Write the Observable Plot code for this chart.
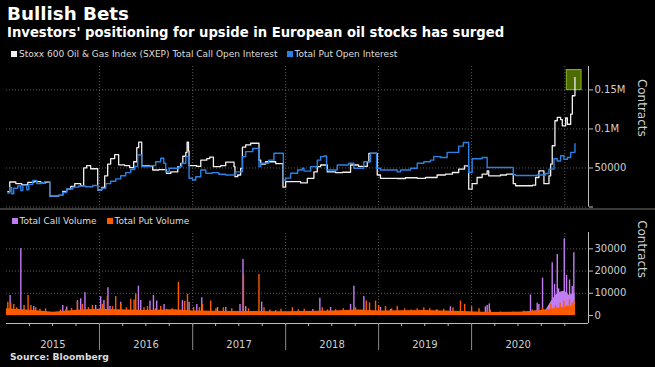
<!DOCTYPE html>
<html><head><meta charset="utf-8">
<script src="https://cdn.jsdelivr.net/npm/d3@7"></script>
<script src="https://cdn.jsdelivr.net/npm/@observablehq/plot@0.6"></script>
<style>
html,body{margin:0;padding:0;background:#000;}
#chart{position:relative;width:655px;height:367px;background:#000;overflow:hidden;font-family:"DejaVu Sans",sans-serif;color:#fff;}
.abs{position:absolute;white-space:nowrap;line-height:1;}
.sq{display:inline-block;width:6px;height:6px;margin-right:2px;vertical-align:0px;}
</style></head><body>
<div id="chart">
  <div class="abs" id="topPanel" style="left:0;top:0"></div>
  <div class="abs" id="bottomPanel" style="left:0;top:210px"></div>
  <div class="abs" style="left:0;top:208px;width:655px;height:2px;background:#3a3a3a"></div>
  <div class="abs" style="left:7px;top:5.3px;font-size:18.3px;font-weight:bold;">Bullish Bets</div>
  <div class="abs" style="left:7px;top:26.2px;font-size:13.2px;font-weight:bold;">Investors' positioning for upside in European oil stocks has surged</div>
  <div class="abs" id="legendTop" style="left:11px;top:50.3px;font-size:9px;color:#ddd;"></div>
  <div class="abs" id="legendBottom" style="left:11.5px;top:216.9px;font-size:9px;color:#ddd;"></div>
  <div class="abs" style="left:10px;top:352.2px;font-size:9.2px;font-weight:bold;color:#ddd;">Source: Bloomberg</div>
</div>
<script>
// ---- data (decimal year, value) ----
const callOpenInterest = [
 [2015.014,19600],[2015.035,32000],[2015.100,30000],[2015.164,28500],[2015.229,31500],[2015.293,32500],[2015.368,31000],[2015.422,32000],
 [2015.465,14000],[2015.562,15000],[2015.605,20000],[2015.648,23000],[2015.691,26500],[2015.734,30000],[2015.798,27500],[2015.830,50000],
 [2015.862,53000],[2015.905,49000],[2015.981,21800],[2016.024,25000],[2016.056,40000],[2016.088,55000],[2016.120,62000],[2016.163,67000],
 [2016.206,54000],[2016.271,53000],[2016.324,50500],[2016.367,58000],[2016.400,76000],[2016.421,83000],[2016.453,52500],[2016.571,47400],
 [2016.636,48000],[2016.719,43000],[2016.765,45000],[2016.840,51700],[2016.872,56000],[2016.894,65000],[2016.926,70000],[2016.940,83000],
 [2016.955,72000],[2016.961,53000],[2017.044,52000],[2017.087,60000],[2017.151,62000],[2017.183,64000],[2017.223,51700],[2017.302,53000],
 [2017.355,57500],[2017.445,51700],[2017.455,38800],[2017.484,41000],[2017.516,49600],[2017.535,76700],[2017.570,79500],[2017.624,81700],
 [2017.713,60000],[2017.732,55000],[2017.785,58000],[2017.893,55500],[2017.971,25400],[2018.000,32400],[2018.161,30800],[2018.233,36800],
 [2018.304,45000],[2018.340,51700],[2018.376,53800],[2018.448,45000],[2018.537,44000],[2018.612,44500],[2018.698,53800],[2018.784,52000],
 [2018.878,58000],[2018.895,68800],[2018.985,41000],[2019.020,36800],[2019.200,36500],[2019.289,37500],[2019.415,36800],[2019.504,37800],
 [2019.629,41000],[2019.718,42000],[2019.794,44200],[2019.861,48500],[2019.923,52800],[2019.969,22800],[2020.006,29900],[2020.059,37800],
 [2020.113,42000],[2020.167,46400],[2020.184,40000],[2020.310,41000],[2020.375,42000],[2020.447,29900],[2020.472,27200],[2020.655,28000],
 [2020.687,37800],[2020.722,46400],[2020.776,29900],[2020.830,40000],[2020.848,55000],[2020.865,78500],[2020.894,110500],[2020.919,114800],
 [2020.955,112000],[2020.973,104000],[2021.009,114000],[2021.027,106000],[2021.063,119000],[2021.081,142500],[2021.109,166000]
];
const putOpenInterest = [
 [2015.014,18000],[2015.035,25000],[2015.057,17000],[2015.078,24000],[2015.121,27000],[2015.154,21000],[2015.175,28000],[2015.218,22000],
 [2015.240,29000],[2015.283,34000],[2015.326,30000],[2015.368,31000],[2015.411,32500],[2015.465,14000],[2015.562,15000],[2015.605,18500],
 [2015.648,23000],[2015.712,25500],[2015.776,27000],[2015.851,26000],[2015.927,27500],[2015.981,21800],[2016.024,24000],[2016.067,30000],
 [2016.120,33000],[2016.174,36000],[2016.228,40000],[2016.281,44000],[2016.335,48000],[2016.378,52000],[2016.410,66600],[2016.453,51700],
 [2016.550,53000],[2016.603,58000],[2016.657,62400],[2016.690,56000],[2016.711,45000],[2016.747,49600],[2016.854,51700],[2016.883,56000],
 [2016.926,64500],[2016.961,36800],[2016.998,34600],[2017.033,38800],[2017.087,47400],[2017.141,43200],[2017.213,44000],[2017.281,42000],
 [2017.355,41000],[2017.462,45000],[2017.535,64500],[2017.570,71000],[2017.646,75000],[2017.713,51700],[2017.732,56000],[2017.818,60000],
 [2017.874,68800],[2017.975,34600],[2018.000,37000],[2018.054,43200],[2018.129,47400],[2018.179,49600],[2018.197,46000],[2018.269,51700],
 [2018.340,60000],[2018.376,64500],[2018.411,65400],[2018.440,47400],[2018.555,53800],[2018.680,56000],[2018.734,49600],[2018.841,58000],
 [2018.913,68800],[2018.978,49600],[2019.020,47400],[2019.200,45000],[2019.235,47400],[2019.343,49600],[2019.415,56000],[2019.486,58000],
 [2019.557,60000],[2019.593,64500],[2019.665,63500],[2019.737,70000],[2019.861,78000],[2019.912,82700],[2019.969,44200],[2020.006,61900],
 [2020.113,63500],[2020.167,50600],[2020.447,41400],[2020.472,40400],[2020.704,41000],[2020.794,43000],[2020.830,48500],[2020.884,61900],
 [2020.919,59000],[2020.955,65600],[2020.991,61000],[2021.027,63500],[2021.063,70000],[2021.109,81000]
];
const callVolume = [
 [2015.039,9000],[2015.154,30000],[2015.293,4000],[2015.605,4500],[2015.648,3800],[2015.763,6700],[2015.798,7500],[2015.844,10200],
 [2015.959,4500],[2016.013,8500],[2016.048,6700],[2016.091,12500],[2016.113,4000],[2016.228,6000],[2016.418,13200],[2016.443,6700],
 [2016.542,6500],[2016.579,9000],[2016.614,6500],[2016.693,5000],[2016.890,6700],[2016.961,6000],[2017.044,5000],[2017.098,8000],
 [2017.267,3600],[2017.356,3600],[2017.509,5000],[2017.541,25200],[2017.570,4000],[2017.742,6000],[2018.293,2700],[2018.368,7800],
 [2018.483,3600],[2018.698,5000],[2018.734,13200],[2018.841,8500],[2019.020,3600],[2019.128,2700],[2019.630,2500],[2019.772,3900],
 [2020.148,3900],[2020.167,4500],[2020.190,5200],[2020.632,9300],[2020.704,5500],[2020.722,5000],[2020.761,16800],[2020.865,23700],
 [2020.890,14000],[2020.919,27400],[2020.933,12000],[2020.955,10000],[2020.994,34500],[2021.019,18000],[2021.051,16000],[2021.080,13000],
 [2021.097,28200]
];
const callVolumeBase = [
 [2015.000,1500],[2015.500,1000],[2016.000,1800],[2016.500,1500],[2017.000,1200],[2017.500,1000],[2018.000,1000],[2018.500,1200],
 [2019.000,1000],[2019.500,1200],[2020.000,1300],[2020.500,1200],[2020.800,2500],[2020.850,6000],[2020.900,9000],[2020.950,10500],
 [2021.000,11000],[2021.050,9000],[2021.100,10000],[2021.110,10000]
];
const putVolume = [
 [2015.014,6000],[2015.046,5500],[2015.078,5000],[2015.110,3500],[2015.189,4500],[2015.232,9000],[2015.262,4500],[2015.315,3500],
 [2015.360,2800],[2015.420,3000],[2015.580,2500],[2015.640,2800],[2015.700,3200],[2015.763,6000],[2015.816,5000],[2015.881,3500],
 [2015.924,4500],[2016.031,5000],[2016.085,8500],[2016.140,4000],[2016.174,8500],[2016.228,5000],[2016.290,3500],[2016.335,7300],
 [2016.371,7000],[2016.389,9700],[2016.478,3500],[2016.515,4000],[2016.600,3000],[2016.657,4000],[2016.720,2800],[2016.780,3000],
 [2016.847,14900],[2016.915,6300],[2016.944,9500],[2017.010,3500],[2017.073,3500],[2017.105,5000],[2017.194,6500],[2017.250,3000],
 [2017.330,3500],[2017.420,3000],[2017.546,18300],[2017.600,3000],[2017.713,18500],[2017.767,3500],[2017.830,2500],[2017.893,2200],
 [2017.950,2800],[2018.072,3500],[2018.136,2600],[2018.200,2800],[2018.394,3500],[2018.450,2500],[2018.537,2600],[2018.620,3000],
 [2018.752,3500],[2018.867,6500],[2018.902,5700],[2018.967,6500],[2019.000,4500],[2019.074,4000],[2019.140,3000],[2019.200,4000],
 [2019.280,3000],[2019.350,2500],[2019.415,3000],[2019.486,3500],[2019.550,3000],[2019.620,2500],[2019.700,2800],[2019.800,3500],
 [2019.880,6500],[2019.925,5000],[2020.000,4000],[2020.080,3000],[2020.200,2500],[2020.310,1600],[2020.440,1500],[2020.560,2000],
 [2020.650,2500],[2020.760,3500],[2020.850,5000],[2020.900,4500],[2020.950,5500],[2020.990,6500],[2021.020,4500],[2021.050,7000],
 [2021.080,5500],[2021.100,6500]
];
const putVolumeBase = [
 [2015.000,3000],[2015.300,2200],[2015.500,1500],[2015.800,2500],[2016.000,2800],[2016.500,2200],[2016.800,2600],[2017.000,2000],
 [2017.500,1800],[2018.000,1700],[2018.500,2000],[2018.800,2500],[2019.000,2000],[2019.500,2200],[2019.900,1800],[2020.200,1300],
 [2020.600,1600],[2020.800,2500],[2020.950,3500],[2021.050,4000],[2021.110,4000]
];
const topTicks = [0, 50000, 100000, 150000];
const bottomTicks = [0, 10000, 20000, 30000];
const yearLabels = [2015, 2016, 2017, 2018, 2019, 2020];
const gridYears = [2016, 2017, 2018, 2019, 2020, 2021];
const legendTopItems = [["Stoxx 600 Oil & Gas Index (SXEP) Total Call Open Interest", "#f0f0f0"], ["Total Put Open Interest", "#2a82e4"]];
const legendBottomItems = [["Total Call Volume", "#c27cf2"], ["Total Put Volume", "#ff5a00"]];

// ---- helpers ----
const toDate = t => { const y = Math.floor(t); const a = Date.UTC(y,0,1), b = Date.UTC(y+1,0,1); return new Date(a + (t - y) * (b - a)); };
const rows = arr => arr.map(([t, v]) => ({date: toDate(t), value: v}));
const callOI = rows(callOpenInterest), putOI = rows(putOpenInterest);
const callV = rows(callVolume), putV = rows(putVolume);
const callB = rows(callVolumeBase), putB = rows(putVolumeBase);
const xStart = new Date(Date.UTC(2015,0,1)), xEnd = new Date(Date.UTC(2021,3,4));
const yearStarts = gridYears.map(y => new Date(Date.UTC(y,0,1)));
const midYears = yearLabels.map(y => new Date(Date.UTC(y,6,2)));
const quarterTicks = d3.utcMonth.every(3).range(new Date(Date.UTC(2015,3,1)), new Date(Date.UTC(2021,1,1)));
const sepTicks = yearStarts.filter(d => d.getUTCFullYear() <= 2020);

const WHITE = legendTopItems[0][1], BLUE = legendTopItems[1][1];
const PURPLE = legendBottomItems[0][1], ORANGE = legendBottomItems[1][1];
const GRID = "#5a5a5a", AXIS = "#bdbdbd", TXT = "#cfcfcf";
const plotStyle = {background: "none", color: TXT, fontFamily: "DejaVu Sans", fontSize: "10px", overflow: "visible"};

const lastCall = callOI[callOI.length - 1];

const topChart = Plot.plot({
  width: 655, height: 215, marginLeft: 6, marginRight: 67, marginTop: 66, marginBottom: 8.5,
  style: plotStyle,
  x: {type: "utc", domain: [xStart, xEnd], axis: null},
  y: {domain: [0, 180000], axis: null},
  marks: [
    Plot.ruleY(topTicks, {stroke: GRID, strokeDasharray: "1,2"}),
    Plot.ruleX(yearStarts, {stroke: GRID, strokeDasharray: "1,2"}),
    Plot.rect([lastCall], {x1: d => d3.utcDay.offset(d.date, -32), x2: d => d3.utcDay.offset(d.date, 26),
      y1: d => d.value - 16300, y2: d => d.value + 9400, fill: "#4d6c00", stroke: "#8cb828", strokeWidth: 1}),
    Plot.line(callOI, {x: "date", y: "value", stroke: WHITE, strokeWidth: 1.3, curve: "step-after"}),
    Plot.line(putOI, {x: "date", y: "value", stroke: BLUE, strokeWidth: 1.4, curve: "step-after"}),
    Plot.ruleX([xEnd], {stroke: AXIS}),
    Plot.axisY({anchor: "right", ticks: topTicks, tickSize: 4, tickPadding: 2, stroke: AXIS, fill: TXT, label: null,
      tickFormat: d => d === 0 ? "" : d >= 100000 ? `${d / 1e6}M` : `${d}`}),
    Plot.text(["Contracts"], {frameAnchor: "right", dx: 53, rotate: 90, fill: TXT, fontSize: 12})
  ]
});
document.getElementById("topPanel").appendChild(topChart);

const yMin = -3600, yMax = 37350;
const bottomChart = Plot.plot({
  width: 655, height: 157, marginLeft: 6, marginRight: 67, marginTop: 22, marginBottom: 44,
  style: plotStyle,
  x: {type: "utc", domain: [xStart, xEnd], axis: null},
  y: {domain: [yMin, yMax], axis: null},
  marks: [
    Plot.ruleY(bottomTicks.filter(d => d > 0), {stroke: GRID, strokeDasharray: "1,2"}),
    Plot.ruleX(yearStarts, {stroke: GRID, strokeDasharray: "1,2", y1: 0, y2: yMax}),
    Plot.areaY(callB, {x: "date", y: "value", fill: PURPLE, curve: "linear"}),
    Plot.ruleX(callV, {x: "date", y1: 0, y2: "value", stroke: PURPLE, strokeWidth: 1.4}),
    Plot.areaY(putB, {x: "date", y: "value", fill: ORANGE, curve: "linear"}),
    Plot.ruleX(putV, {x: "date", y1: 0, y2: "value", stroke: ORANGE, strokeWidth: 1.4}),
    Plot.ruleY([yMin], {stroke: AXIS}),
    Plot.ruleX([xEnd], {stroke: AXIS}),
    Plot.axisY({anchor: "right", ticks: bottomTicks, tickSize: 4, tickPadding: 2, stroke: AXIS, fill: TXT, label: null, tickFormat: d => `${d}`}),
    Plot.axisX({ticks: quarterTicks, tickSize: 3, stroke: AXIS, tickFormat: () => "", label: null}),
    Plot.axisX({ticks: sepTicks, tickSize: 27, stroke: "#8a8a8a", tickFormat: () => "", label: null}),
    Plot.axisX({ticks: midYears, tickSize: 0, tickPadding: 17, fill: TXT, fontSize: 10, tickFormat: d3.utcFormat("%Y"), label: null}),
    Plot.text(["Contracts"], {frameAnchor: "right", dx: 53, rotate: 90, fill: TXT, fontSize: 12})
  ]
});
document.getElementById("bottomPanel").appendChild(bottomChart);

function legend(el, items, gaps) {
  items.forEach(([label, color], i) => {
    const s = document.createElement("span");
    s.style.marginLeft = i ? gaps + "px" : "0";
    s.innerHTML = `<span class="sq" style="background:${color}"></span>`;
    s.appendChild(document.createTextNode(label));
    el.appendChild(s);
  });
}
legend(document.getElementById("legendTop"), legendTopItems, 9);
legend(document.getElementById("legendBottom"), legendBottomItems, 10);
</script>
</body></html>
